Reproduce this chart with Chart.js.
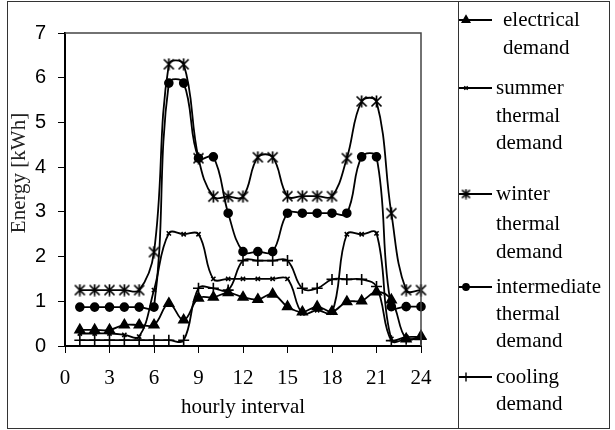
<!DOCTYPE html>
<html lang="en">
<head>
<meta charset="UTF-8" />
<title>Hourly energy demand</title>
<script src="https://cdn.jsdelivr.net/npm/chart.js@4"></script>
<style>
  html, body { margin: 0; background: #fff; }
  #wrap { width: 615px; height: 430px; }
</style>
</head>
<body>
<div id="wrap"><canvas id="chart" width="615" height="430"></canvas></div>
<script>
  // values, hours 1..24
  const hours = [1,2,3,4,5,6,7,8,9,10,11,12,13,14,15,16,17,18,19,20,21,22,23,24];
  const electrical   = [0.36,0.36,0.36,0.47,0.47,0.47,0.95,0.58,1.07,1.09,1.19,1.09,1.04,1.16,0.88,0.76,0.88,0.77,0.99,1.01,1.21,1.03,0.16,0.22];
  const summer       = [0.28,0.28,0.28,0.25,0.21,1.25,2.52,2.5,2.5,1.5,1.5,1.5,1.5,1.5,1.5,0.73,0.8,0.75,2.5,2.5,2.52,0.16,0.2,0.2];
  const winter       = [1.25,1.25,1.25,1.25,1.25,2.1,6.3,6.3,4.2,3.34,3.34,3.34,4.22,4.22,3.35,3.35,3.35,3.35,4.2,5.47,5.47,2.97,1.25,1.25];
  const intermediate = [0.87,0.87,0.87,0.87,0.87,0.87,5.88,5.88,4.2,4.23,2.97,2.11,2.11,2.11,2.97,2.97,2.97,2.97,2.97,4.23,4.23,0.88,0.88,0.88];
  const cooling      = [0.13,0.13,0.13,0.13,0.13,0.13,0.13,0.13,1.29,1.29,1.25,1.91,1.91,1.91,1.91,1.29,1.29,1.49,1.49,1.49,1.33,0.12,0.15,0.15];

  const legendLabels = [
    ['electrical', 'demand'],
    ['summer', 'thermal', 'demand'],
    ['winter', 'thermal', 'demand'],
    ['intermediate', 'thermal', 'demand'],
    ['cooling', 'demand']
  ];
  const xTicks = [0,3,6,9,12,15,18,21,24];

  const serif = "'Liberation Serif', 'Times New Roman', serif";
  const sans = "'Liberation Sans', Arial, sans-serif";

  // excel-style asterisk: an X with a vertical bar
  function asterisk(size) {
    const c = document.createElement('canvas');
    c.width = size; c.height = size;
    const g = c.getContext('2d');
    const m = 1.5, e = size - 1.5, h = size / 2;
    g.strokeStyle = '#000';
    g.lineWidth = 1.7;
    g.beginPath();
    g.moveTo(m, m); g.lineTo(e, e);
    g.moveTo(e, m); g.lineTo(m, e);
    g.moveTo(h, 0.5); g.lineTo(h, size - 0.5);
    g.stroke();
    return c;
  }
  const starMark = asterisk(13);
  const starLegend = asterisk(11);

  const series = [
    { data: electrical,   style: 'triangle', r: 5.5 },
    { data: summer,       style: 'crossRot', r: 3 },
    { data: winter,       style: starMark,   r: 6 },
    { data: intermediate, style: 'circle',   r: 4 },
    { data: cooling,      style: 'cross',    r: 5.5 }
  ];

  const datasets = series.map((s, i) => ({
    label: legendLabels[i].join(' '),
    data: hours.map((h, j) => ({ x: h, y: s.data[j] })),
    borderColor: '#000',
    backgroundColor: '#000',
    borderWidth: 1.8,
    pointStyle: s.style,
    pointRadius: s.r,
    pointBorderColor: '#000',
    pointBackgroundColor: '#000',
    pointBorderWidth: 1.6,
    tension: 0.4,
    clip: false
  }));

  // frame, plot box, y title and the legend on the right
  const decor = {
    id: 'decor',
    afterDraw(chart) {
      const ctx = chart.ctx;
      const a = chart.chartArea;
      ctx.save();

      ctx.strokeStyle = '#333';
      ctx.lineWidth = 1;
      ctx.strokeRect(7.5, 1.5, 602, 427);
      ctx.beginPath();
      ctx.moveTo(458.5, 1.5);
      ctx.lineTo(458.5, 428.5);
      ctx.stroke();

      ctx.strokeStyle = '#444';
      ctx.lineWidth = 1.5;
      ctx.beginPath();
      ctx.moveTo(a.left, a.top);
      ctx.lineTo(a.right, a.top);
      ctx.lineTo(a.right, a.bottom);
      ctx.stroke();

      ctx.fillStyle = '#222';
      ctx.font = '21px ' + serif;
      ctx.textAlign = 'center';
      ctx.textBaseline = 'middle';
      ctx.save();
      ctx.translate(19, 173);
      ctx.rotate(-Math.PI / 2);
      ctx.fillText('Energy [kWh]', 0, 0);
      ctx.restore();

      const rows = [[20, 48], [88, 116, 143], [194, 224, 252], [287, 314, 341], [377, 404]];
      ctx.textAlign = 'left';
      ctx.fillStyle = '#000';
      rows.forEach((ys, i) => {
        const y = ys[0];
        ctx.strokeStyle = '#000';
        ctx.lineWidth = 1.8;
        ctx.beginPath();
        ctx.moveTo(459, y);
        ctx.lineTo(492, y);
        ctx.stroke();
        ctx.lineWidth = 1.4;
        const st = series[i].style;
        Chart.helpers.drawPoint(ctx, {
          pointStyle: st === starMark ? starLegend : st,
          radius: series[i].r * 0.8,
          rotation: 0,
          borderWidth: 1.4
        }, 466, y);
        const tx = i === 0 ? 503 : 496;
        legendLabels[i].forEach((t, k) => ctx.fillText(t, tx, ys[k]));
      });
      ctx.restore();
    }
  };

  new Chart(document.getElementById('chart'), {
    type: 'line',
    data: { datasets },
    plugins: [decor],
    options: {
      responsive: false,
      animation: false,
      layout: { padding: { top: 33, right: 194, left: 0, bottom: 0 } },
      plugins: { legend: { display: false }, tooltip: { enabled: false } },
      scales: {
        x: {
          type: 'linear',
          min: 0, max: 24,
          afterFit: s => { s.height = 84; },
          afterBuildTicks: s => { s.ticks = xTicks.map(v => ({ value: v })); },
          ticks: { color: '#000', font: { family: serif, size: 21 }, padding: 13, maxRotation: 0 },
          grid: { drawOnChartArea: false, drawTicks: true, tickLength: 7, color: '#000', lineWidth: 1 },
          border: { color: '#000', width: 2 },
          title: { display: true, text: 'hourly interval', color: '#000', font: { family: serif, size: 21 }, padding: { top: 0, bottom: 10 } }
        },
        y: {
          min: 0, max: 7,
          afterFit: s => { s.width = 65; },
          ticks: { stepSize: 1, color: '#000', font: { family: sans, size: 20 }, padding: 12 },
          grid: { drawOnChartArea: false, drawTicks: true, tickLength: 7, color: '#000', lineWidth: 1 },
          border: { color: '#000', width: 2 }
        }
      }
    }
  });
</script>
</body>
</html>
